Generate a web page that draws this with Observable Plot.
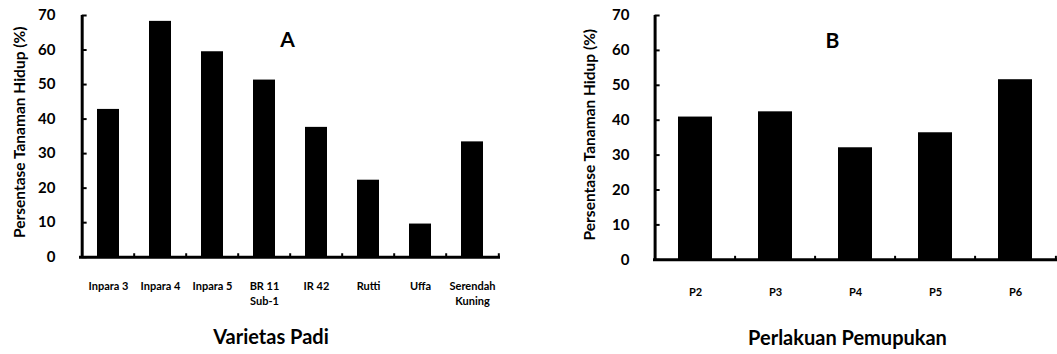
<!DOCTYPE html>
<html><head><meta charset="utf-8">
<script src="https://cdn.jsdelivr.net/npm/d3@7"></script>
<script src="https://cdn.jsdelivr.net/npm/@observablehq/plot@0.6"></script>
<style>
html,body{margin:0;padding:0;background:#fff;}
#wrap{display:flex;width:1057px;height:354px;overflow:hidden;}
</style>
</head><body><div id="wrap"></div>
<script>
const varietas = ["Inpara 3","Inpara 4","Inpara 5","BR 11\nSub-1","IR 42","Rutti","Uffa","Serendah\nKuning"];
const hidupA = [42.8, 68.3, 59.5, 51.3, 37.6, 22.3, 9.6, 33.4];
const perlakuan = ["P2","P3","P4","P5","P6"];
const hidupB = [40.9, 42.4, 32.1, 36.4, 51.6];
const yTicks = [0,10,20,30,40,50,60,70];
const yLabel = "Persentase Tanaman Hidup (%)";

const FONT = "Lato, 'Open Sans', sans-serif";
const PI = 0.58, PO = 0.29;

function chart({cats, vals, width, ml, mr, mb, title, letter, titleDx, titleDy, letterDx, letterDy, labelDx, labelDy, tickPad}) {
  const data = cats.map((c, i) => ({c, v: vals[i]}));
  const step = (width - ml - mr) / cats.length;
  const bandw = step * (1 - PI);
  return Plot.plot({
    width, height: 354,
    marginLeft: ml, marginRight: mr, marginTop: 15, marginBottom: mb,
    style: {fontFamily: FONT, fontWeight: "bold", color: "#000", background: "#fff"},
    x: {domain: cats, paddingInner: PI, paddingOuter: PO, axis: null},
    y: {domain: [0, 70], ticks: yTicks, axis: null},
    marks: [
      Plot.barY(data, {x: "c", y: "v", fill: "#000"}),
      Plot.ruleY([0], {stroke: "#000", strokeWidth: 3}),
      Plot.ruleX([cats[0]], {x: d => d, y1: 0, y2: 70, dx: -step / 2, stroke: "#000", strokeWidth: 3}),
      Plot.ruleX(cats.slice(1), {x: d => d, y1: 0, y2: 1, dx: -step / 2, stroke: "#000", strokeWidth: 2}),
      Plot.ruleX(cats.slice(-1), {x: d => d, y1: 0, y2: 1, dx: step / 2, stroke: "#000", strokeWidth: 2}),
      Plot.tickY(yTicks, {x: () => cats[0], y: d => d, dx: -step * PO, insetRight: bandw - 5, stroke: "#000", strokeWidth: 2}),
      Plot.axisY({ticks: yTicks, tickSize: 0, tickPadding: 24, fontSize: 15, label: null}),
      Plot.axisX({tickSize: 0, tickPadding: tickPad, fontSize: 11, lineHeight: 1.45, label: null}),
      Plot.text([yLabel], {frameAnchor: "left", textAnchor: "middle", dx: labelDx, dy: labelDy, rotate: -90, fontSize: 15.5, fontWeight: "bold", fill: "#000"}),
      Plot.text([title], {frameAnchor: "bottom", dx: titleDx, dy: titleDy, fontSize: 20, fontWeight: "bold", fill: "#000"}),
      Plot.text([letter], {frameAnchor: "top", dx: letterDx, dy: letterDy, fontSize: 21, fontWeight: "bold", fill: "#000"})
    ]
  });
}

const wrap = document.getElementById("wrap");
wrap.append(chart({cats: varietas, vals: hidupA, width: 530, ml: 79, mr: 30, mb: 97.3, tickPad: 21,
  title: "Varietas Padi", letter: "A", titleDx: -19, titleDy: 87, letterDx: -2.5, letterDy: 17, labelDx: -59, labelDy: -4}));
wrap.append(chart({cats: perlakuan, vals: hidupB, width: 527, ml: 123, mr: 0, mb: 94.7, tickPad: 25,
  title: "Perlakuan Pemupukan", letter: "B", titleDx: -8, titleDy: 85, letterDx: -23, letterDy: 18, labelDx: -63, labelDy: -3}));
</script></body></html>
